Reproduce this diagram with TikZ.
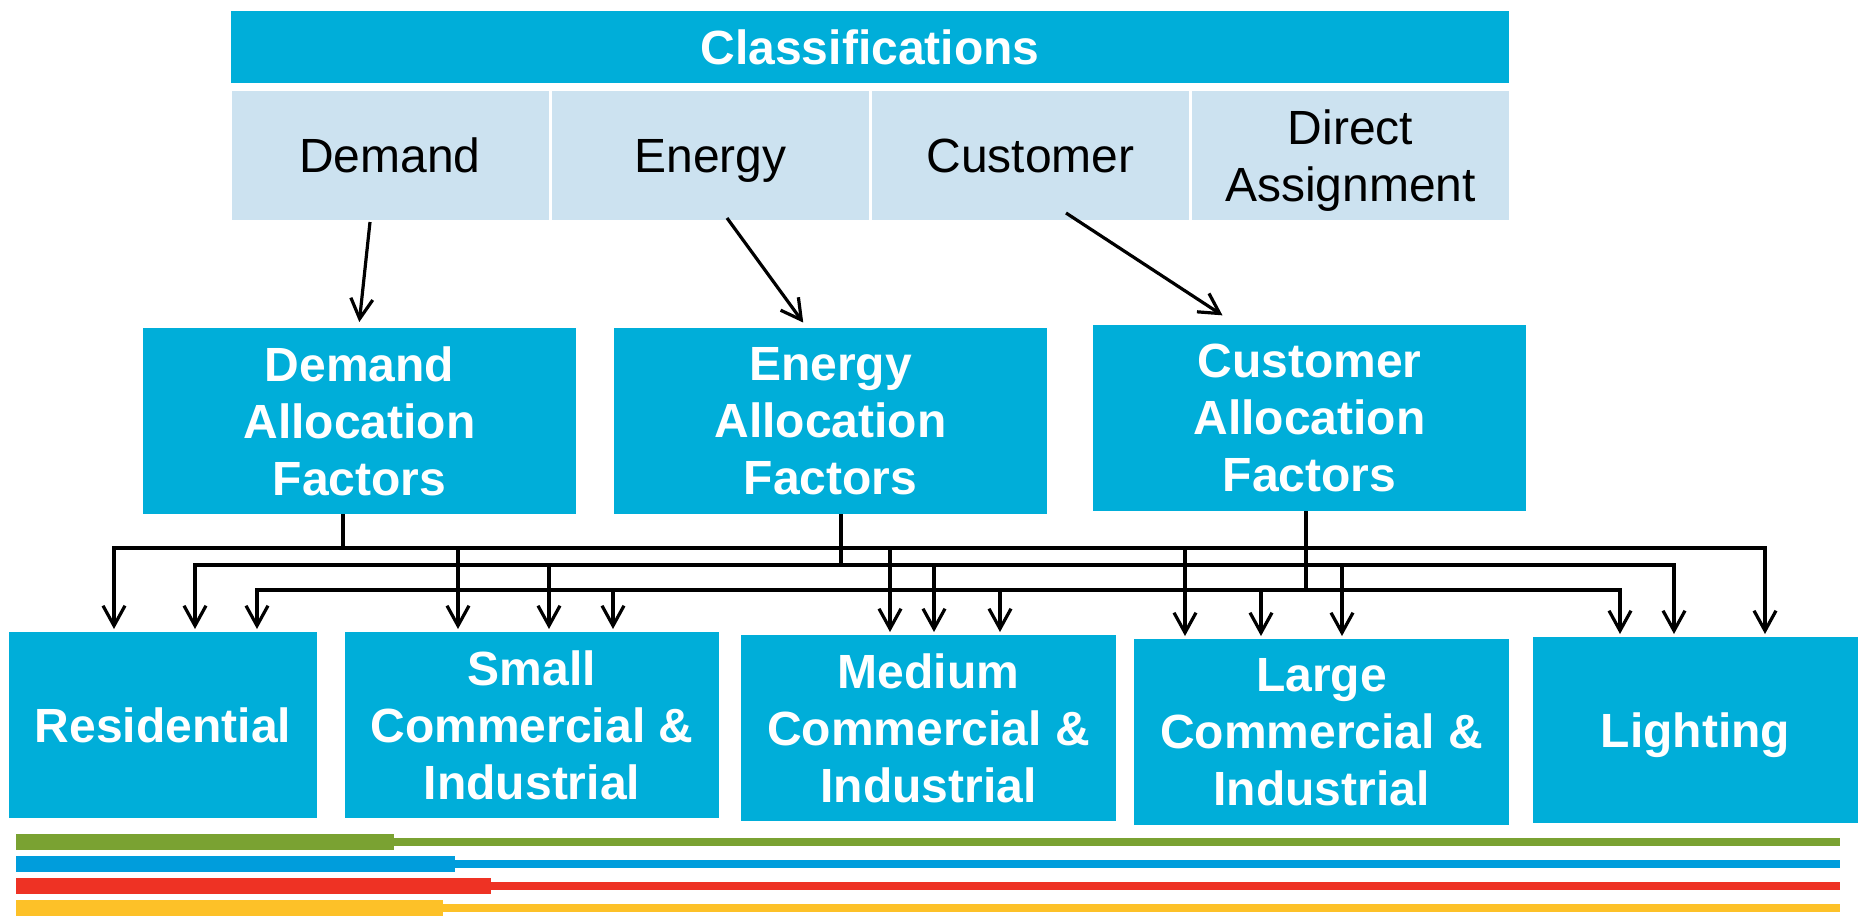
\documentclass[tikz,border=0pt]{standalone}
\usepackage{fontspec}
\setmainfont{Liberation Sans}
\usetikzlibrary{arrows.meta}
\definecolor{boxblue}{RGB}{0,174,217}
\definecolor{paleblue}{RGB}{204,226,240}
\definecolor{stripegreen}{RGB}{122,162,50}
\definecolor{stripeblue}{RGB}{0,157,220}
\definecolor{stripered}{RGB}{238,50,36}
\definecolor{stripeyellow}{RGB}{253,193,40}
% keep descenders out of the vertical centring of a label
\newcommand\flatdepth[1]{\raisebox{0pt}[\height][0pt]{#1}}

\begin{document}
\begin{tikzpicture}[x=1pt,y=-1pt,
  txt/.style={font=\fontsize{48pt}{57pt}\selectfont, inner sep=0pt, outer sep=0pt, align=center},
  hdr/.style={txt, fill=boxblue, text=white, font=\fontsize{48pt}{57pt}\selectfont\bfseries},
  cls/.style={txt, fill=paleblue, text=black},
  wire/.style={line width=3.2pt, line cap=rect},
  arr/.style={line width=3.2pt, -{Straight Barb[length=20pt,width=22pt]}, shorten >=3pt},
]
\useasboundingbox (0,0) rectangle (1858,918);

% classification header and its four columns
\node[hdr, minimum width=1278pt, minimum height=72pt] (cls) at (870,47) {Classifications};
\node[cls, minimum width=317pt, minimum height=129pt] (dem) at (390,155.5) {Demand};
\node[cls, minimum width=317pt, minimum height=129pt] (ene) at (710.5,155.5) {\flatdepth{Energy}};
\node[cls, minimum width=317pt, minimum height=129pt] (cus) at (1030.5,155.5) {Customer};
\node[cls, minimum width=317pt, minimum height=129pt] (dir) at (1350.5,155.5) {Direct\\\flatdepth{Assignment}};

% allocation factor boxes
\node[hdr, minimum width=433pt, minimum height=186pt] (dalloc) at (359.5,421) {Demand\\Allocation\\Factors};
\node[hdr, minimum width=433pt, minimum height=186pt] (ealloc) at (830.5,421) {Energy\\Allocation\\Factors};
\node[hdr, minimum width=433pt, minimum height=186pt] (calloc) at (1309.5,418) {Customer\\Allocation\\Factors};

% customer classes
\node[hdr, minimum width=308pt, minimum height=186pt] (res) at (163,725) {Residential};
\node[hdr, minimum width=374pt, minimum height=186pt] (sci) at (532,725) {Small\\Commercial \&\\Industrial};
\node[hdr, minimum width=375pt, minimum height=186pt] (mci) at (928.5,728) {Medium\\Commercial \&\\Industrial};
\node[hdr, minimum width=375pt, minimum height=186pt] (lci) at (1321.5,732) {Large\\Commercial \&\\Industrial};
\node[hdr, minimum width=325pt, minimum height=186pt] (lit) at (1695.5,730) {\flatdepth{Lighting}};

% classification to allocation factors
\draw[arr] ([xshift=-20pt,yshift=-2pt]dem.south) -- ([xshift=-0.5pt,yshift=3pt]dalloc.north);
\draw[arr] ([xshift=16.5pt,yshift=2pt]ene.south) -- ([xshift=-25.5pt,yshift=3pt]ealloc.north);
\draw[arr] ([xshift=35.5pt,yshift=7pt]cus.south) -- ([xshift=-84.5pt,yshift=8pt]calloc.north);

% stems down to the three distribution buses
\draw[wire, line cap=butt] (dalloc.south -| 343,0) -- (343,548);
\draw[wire, line cap=butt] (ealloc.south -| 841,0) -- (841,565);
\draw[wire, line cap=butt] (calloc.south -| 1306,0) -- (1306,590);

% buses
\draw[wire] (114,548) -- (1765,548);
\draw[wire] (195,565) -- (1674,565);
\draw[wire] (257,590) -- (1620,590);

% drops from the buses to each class
\foreach \x/\y/\t in {114/548/res, 195/565/res, 257/590/res,
                      458/548/sci, 549/565/sci, 613/590/sci,
                      890/548/mci, 934/565/mci, 1000/590/mci,
                      1185/548/lci, 1342/565/lci, 1261/590/lci,
                      1765/548/lit, 1674/565/lit, 1620/590/lit}
  \draw[arr] (\x,\y) -- (\t.north -| \x,0);

% coloured rule at the foot
\foreach \yy/\c/\e in {842/stripegreen/394, 864/stripeblue/455,
                       885.5/stripered/491, 908/stripeyellow/443} {
  \fill[\c] (16,\yy-4) rectangle (1840,\yy+4);
  \fill[\c] (16,\yy-8) rectangle (\e,\yy+8);
}
\end{tikzpicture}
\end{document}
